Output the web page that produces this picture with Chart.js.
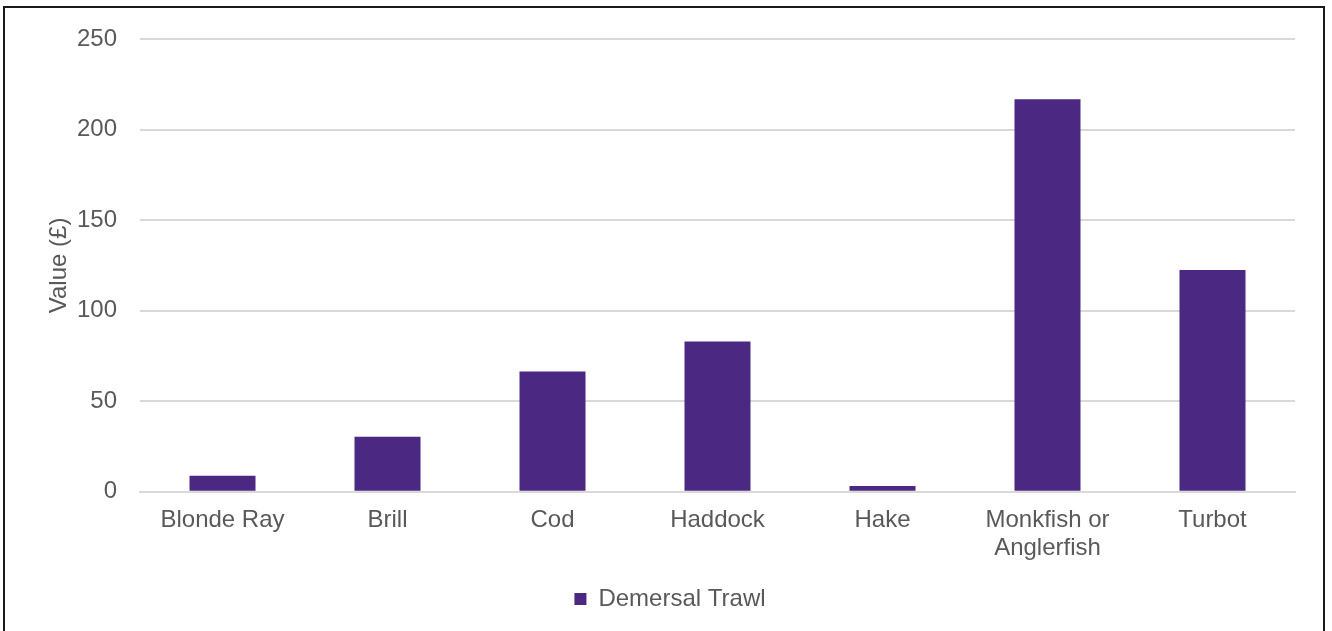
<!DOCTYPE html>
<html>
<head>
<meta charset="utf-8">
<script src="https://cdn.jsdelivr.net/npm/chart.js@4"></script>
<style>
  body { margin: 0; background: #fff; }
  #wrap { position: relative; width: 1332px; height: 631px; overflow: hidden; }
  #frame {
    position: absolute; left: 3px; top: 6px; width: 1318px; height: 700px;
    border: 2px solid #1a1a1a; pointer-events: none;
  }
</style>
</head>
<body>
<div id="wrap">
  <canvas id="chart" width="1332" height="631"></canvas>
  <div id="frame"></div>
</div>
<script>
// Species caught and their value
const species = ["Blonde Ray", "Brill", "Cod", "Haddock", "Hake", ["Monkfish or", "Anglerfish"], "Turbot"];
const demersalTrawl = [8.8, 30.4, 66.4, 83, 3.2, 216.7, 122.5];
const yTicks = [0, 50, 100, 150, 200, 250];

const textColor = "#595959";
const barColor = "#4B2882";
const font = { family: "Liberation Sans", size: 24 };

new Chart(document.getElementById("chart"), {
  type: "bar",
  data: {
    labels: species,
    datasets: [
      {
        label: "Demersal Trawl",
        data: demersalTrawl,
        backgroundColor: barColor,
        categoryPercentage: 1,
        barPercentage: 0.4,
      },
    ],
  },
  options: {
    responsive: false,
    animation: false,
    layout: { padding: { left: 45, right: 37, top: 39, bottom: 10 } },
    scales: {
      x: {
        grid: { display: false },
        border: { color: "#d9d9d9", width: 2 },
        ticks: {
          color: textColor,
          font: { ...font, lineHeight: 1.15 },
          padding: 7,
          maxRotation: 0,
        },
      },
      y: {
        min: 0,
        max: 250,
        afterBuildTicks: (axis) => {
          axis.ticks = yTicks.map((v) => ({ value: v }));
        },
        // fixed axis width so the plot starts at x=140
        afterFit: (axis) => {
          axis.width = 95;
        },
        grid: { color: "#d9d9d9", lineWidth: 2, drawTicks: false },
        border: { display: false },
        ticks: { color: textColor, font, padding: 23 },
        title: {
          display: true,
          text: "Value (£)",
          color: textColor,
          font,
          padding: { top: 0, bottom: 4 },
        },
      },
    },
    plugins: {
      legend: {
        position: "bottom",
        labels: {
          color: textColor,
          font,
          boxWidth: 12,
          boxHeight: 12,
          padding: 18,
        },
      },
      tooltip: { enabled: false },
    },
  },
});
</script>
</body>
</html>
